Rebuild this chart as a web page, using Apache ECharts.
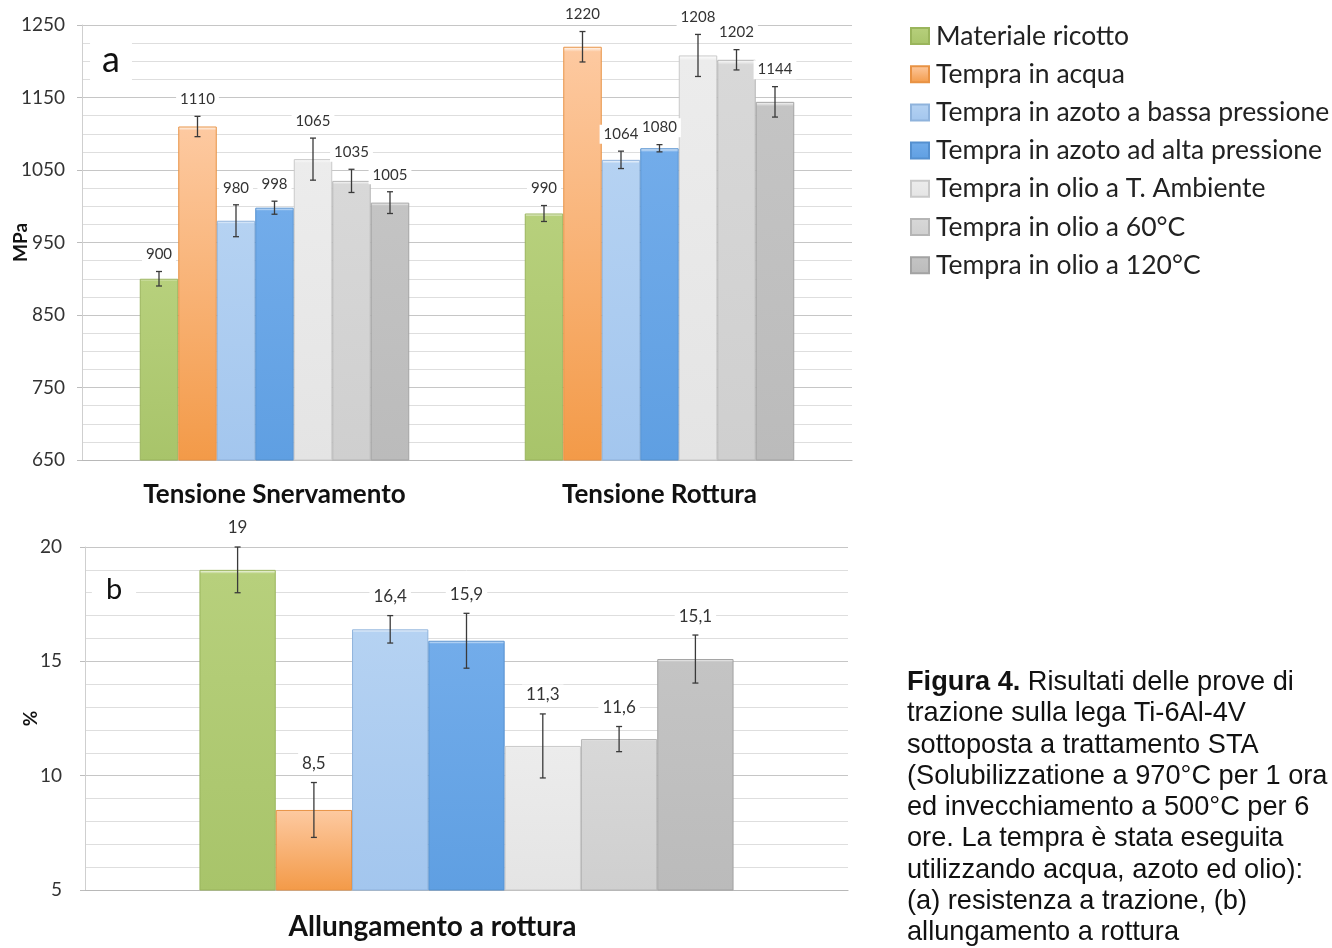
<!DOCTYPE html>
<html>
<head>
<meta charset="utf-8">
<title>Prove di trazione Ti-6Al-4V</title>
<script src="https://cdn.jsdelivr.net/npm/echarts@6/dist/echarts.min.js"></script>
<style>
  html, body { margin: 0; padding: 0; background: #ffffff; }
  #chart { width: 1332px; height: 948px; }
</style>
</head>
<body>
<div id="chart"></div>
<script>
// Trattamenti termici (una serie per ciascuno)
const seriesNames = [
  'Materiale ricotto',
  'Tempra in acqua',
  'Tempra in azoto a bassa pressione',
  'Tempra in azoto ad alta pressione',
  'Tempra in olio a T. Ambiente',
  'Tempra in olio a 60°C',
  'Tempra in olio a 120°C'
];

// (a) resistenza: categorie, valori medi [MPa] e scarti
const categoriesA = ['Tensione Snervamento', 'Tensione Rottura'];
const ricottoA    = [900, 990];
const acquaA      = [1110, 1220];
const azotoBassaA = [980, 1064];
const azotoAltaA  = [998, 1080];
const olioTAA     = [1065, 1208];
const olio60A     = [1035, 1202];
const olio120A    = [1005, 1144];
const ricottoErrA    = [10, 11];
const acquaErrA      = [14, 21];
const azotoBassaErrA = [22, 12];
const azotoAltaErrA  = [9, 5];
const olioTAErrA     = [29, 29];
const olio60ErrA     = [16, 14];
const olio120ErrA    = [15, 21];

// (b) allungamento a rottura [%]
const categoriesB = ['Allungamento a rottura'];
const allungamentoB = [19, 8.5, 16.4, 15.9, 11.3, 11.6, 15.1];
const allungamentoErrB = [1, 1.2, 0.6, 1.2, 1.4, 0.55, 1.05];

// Scale degli assi
const yTicksA = { min: 650, max: 1250, step: 100 };
const yTicksB = { min: 5, max: 20, step: 5 };

const valuesA = [ricottoA, acquaA, azotoBassaA, azotoAltaA, olioTAA, olio60A, olio120A];
const errorsA = [ricottoErrA, acquaErrA, azotoBassaErrA, azotoAltaErrA, olioTAErrA, olio60ErrA, olio120ErrA];

// Colori delle barre: [alto, basso, bordo]
const palette = [
  ['#b7d07c', '#a8c46a', '#9ab55c'],
  ['#fdc9a0', '#f39a48', '#e89244'],
  ['#b5d2f2', '#a3c6ee', '#8fb3dc'],
  ['#72acea', '#5f9fe2', '#5590cf'],
  ['#ececec', '#e4e4e4', '#c9c9c9'],
  ['#d8d8d8', '#cfcfcf', '#b5b5b5'],
  ['#c4c4c4', '#bbbbbb', '#a3a3a3']
];

const FONT = 'Lato, "Open Sans", sans-serif';
const CAPTION_FONT = '"Liberation Sans", Arial, sans-serif';
const GROUP = 0.7; // frazione della categoria occupata dalle barre
const N = seriesNames.length;

function barStyle(i) {
  return {
    color: new echarts.graphic.LinearGradient(0, 0, 0, 1, [
      { offset: 0, color: '#ffffff' },
      { offset: 0.012, color: palette[i][0] },
      { offset: 1, color: palette[i][1] }
    ]),
    borderColor: palette[i][2],
    borderWidth: 1
  };
}

function fmtIt(v) {
  return String(v).replace('.', ',');
}

// Barre d'errore ed etichette dei valori, collocate sulla barra k della categoria
function makeErrorRender(decimalComma, fontSize, labelGap) {
  return function (params, api) {
    const cat = api.value(0);
    const val = api.value(1);
    const err = api.value(2);
    const k = api.value(3);
    const center = api.coord([cat, val]);
    const band = api.size([1, 0])[0];
    const bw = band * GROUP / N;
    const x = center[0] - band * GROUP / 2 + (k + 0.5) * bw;
    const yTop = api.coord([cat, val + err])[1];
    const yBot = api.coord([cat, val - err])[1];
    const cap = 3;
    const st = { stroke: '#3a3a3a', lineWidth: 1.3 };
    return {
      type: 'group',
      children: [
        { type: 'line', shape: { x1: x, y1: yTop, x2: x, y2: yBot }, style: st },
        { type: 'line', shape: { x1: x - cap, y1: yTop, x2: x + cap, y2: yTop }, style: st },
        { type: 'line', shape: { x1: x - cap, y1: yBot, x2: x + cap, y2: yBot }, style: st },
        {
          type: 'text',
          x: x, y: yTop - labelGap,
          style: {
            text: decimalComma ? fmtIt(val) : String(val),
            align: 'center', verticalAlign: 'middle',
            font: fontSize + 'px ' + FONT, fill: '#333333',
            backgroundColor: '#ffffff', padding: [2, 4]
          }
        }
      ]
    };
  };
}

const errDataA = [];
for (let k = 0; k < N; k++) {
  for (let c = 0; c < categoriesA.length; c++) {
    errDataA.push([c, valuesA[k][c], errorsA[k][c], k]);
  }
}
const errDataB = allungamentoB.map((v, k) => [0, v, allungamentoErrB[k], k]);

const series = [];
for (let k = 0; k < N; k++) {
  series.push({
    name: seriesNames[k], type: 'bar', xAxisIndex: 0, yAxisIndex: 0,
    data: valuesA[k], barGap: '0%', barCategoryGap: '30%',
    itemStyle: barStyle(k), emphasis: { disabled: true }, z: 2
  });
}
for (let k = 0; k < N; k++) {
  series.push({
    name: seriesNames[k], type: 'bar', xAxisIndex: 1, yAxisIndex: 1,
    data: [allungamentoB[k]], barGap: '0%', barCategoryGap: '30%',
    itemStyle: barStyle(k), emphasis: { disabled: true }, z: 2
  });
}
series.push({
  type: 'custom', xAxisIndex: 0, yAxisIndex: 0, z: 5,
  renderItem: makeErrorRender(false, 15, 17), data: errDataA, silent: true,
  encode: { x: 0, y: 1 }
});
series.push({
  type: 'custom', xAxisIndex: 1, yAxisIndex: 1, z: 5,
  renderItem: makeErrorRender(true, 17, 19), data: errDataB, silent: true,
  encode: { x: 0, y: 1 }
});

function valueAxis(gridIndex, t, name, nameGap, labelMargin, minorSplit) {
  return {
    type: 'value', gridIndex: gridIndex,
    min: t.min, max: t.max, interval: t.step,
    name: name, nameLocation: 'middle', nameRotate: 90, nameGap: nameGap,
    nameMoveOverlap: false,
    nameTextStyle: { fontFamily: FONT, fontWeight: 'bold', fontSize: 19, color: '#111' },
    axisLine: { show: true, lineStyle: { color: '#cfcfcf', width: 1 } },
    axisTick: { show: true, inside: false, length: 5, lineStyle: { color: '#bdbdbd' } },
    axisLabel: { fontFamily: FONT, fontSize: 19, color: '#333', margin: labelMargin,
                 formatter: v => fmtIt(v) },
    splitLine: { show: true, lineStyle: { color: '#c6c6c6', width: 1.2 } },
    minorTick: { show: false, splitNumber: minorSplit },
    minorSplitLine: { show: true, lineStyle: { color: '#dedede', width: 1 } }
  };
}

function categoryAxis(gridIndex, cats, fontSize, margin, labelPadding) {
  return {
    type: 'category', gridIndex: gridIndex, data: cats,
    axisLine: { show: true, lineStyle: { color: '#b8b8b8', width: 1.2 } },
    axisTick: { show: false },
    axisLabel: { fontFamily: FONT, fontWeight: 'bold', fontSize: fontSize, color: '#111',
                 margin: margin, padding: labelPadding }
  };
}

const chart = echarts.init(document.getElementById('chart'), null, { renderer: 'canvas' });
chart.setOption({
  backgroundColor: '#ffffff',
  animation: false,
  legend: {
    data: seriesNames,
    orient: 'vertical',
    left: 910, top: 22,
    padding: 0,
    itemWidth: 18, itemHeight: 16,
    itemGap: 10.2,
    icon: 'rect',
    selectedMode: false,
    textStyle: { fontFamily: FONT, fontSize: 26.5, color: '#222', lineHeight: 28, padding: [0, 0, 0, 2] }
  },
  grid: [
    { left: 82, top: 25, width: 770, height: 435, outerBoundsMode: 'none' },
    { left: 85, top: 547, width: 763, height: 343, outerBoundsMode: 'none' }
  ],
  xAxis: [
    categoryAxis(0, categoriesA, 26, 22, 0),
    categoryAxis(1, categoriesB, 28, 23, [0, 68, 0, 0])
  ],
  yAxis: [
    valueAxis(0, yTicksA, 'MPa', 52, 17, 4),
    valueAxis(1, yTicksB, '%', 45, 23, 5)
  ],
  series: series,
  graphic: [
    {
      type: 'text', x: 111, y: 60, z: 10,
      style: { text: 'a', font: '36px ' + FONT, fill: '#111', align: 'center', verticalAlign: 'middle',
               backgroundColor: '#ffffff', padding: [2, 12, 2, 12] }
    },
    {
      type: 'text', x: 114, y: 590, z: 10,
      style: { text: 'b', font: '29px ' + FONT, fill: '#111', align: 'center', verticalAlign: 'middle',
               backgroundColor: '#ffffff', padding: [2, 14, 2, 14] }
    },
    {
      type: 'text', left: 907, top: 667, z: 10,
      style: {
        text: '{b|Figura 4.} Risultati delle prove di\n' +
              'trazione sulla lega Ti-6Al-4V\n' +
              'sottoposta a trattamento STA\n' +
              '(Solubilizzatione a 970°C per 1 ora\n' +
              'ed invecchiamento a 500°C per 6\n' +
              'ore. La tempra è stata eseguita\n' +
              'utilizzando acqua, azoto ed olio):\n' +
              '(a) resistenza a trazione, (b)\n' +
              'allungamento a rottura',
        font: '27.2px ' + CAPTION_FONT,
        fill: '#111', lineHeight: 31.25,
        rich: {
          b: { font: 'bold 27.2px ' + CAPTION_FONT, fill: '#111', lineHeight: 31.25 }
        }
      }
    }
  ]
});
</script>
</body>
</html>
